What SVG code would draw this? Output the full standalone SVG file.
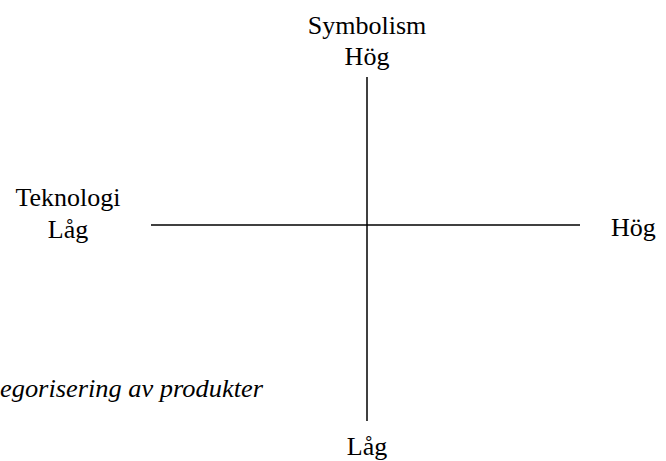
<svg xmlns="http://www.w3.org/2000/svg" width="666" height="461" viewBox="0 0 666 461">
<style>
text{font-size:26px;fill:#000}
.c{text-anchor:middle}
.i{font-style:italic}
line{stroke:#000;stroke-width:1.5}
</style>
<rect width="666" height="461" fill="#fff"/>
<g id="axes">
<line x1="367" y1="77" x2="367" y2="421"/>
<line x1="151" y1="225" x2="580" y2="225"/>
</g>
<g font-family="'Times New Roman', 'Liberation Serif', Times, serif">
<g id="top"><text class="c" x="367" y="34">Symbolism</text><text class="c" x="367" y="65">Hög</text></g>
<g id="left"><text class="c" x="68" y="206">Teknologi</text><text class="c" x="68" y="238">Låg</text></g>
<g id="right"><text x="611" y="236">Hög</text></g>
<g id="bottom"><text class="c" x="367" y="455">Låg</text></g>
<g id="caption"><text class="i" x="0" y="397" textLength="263" lengthAdjust="spacingAndGlyphs">egorisering av produkter</text></g>
</g>
</svg>
